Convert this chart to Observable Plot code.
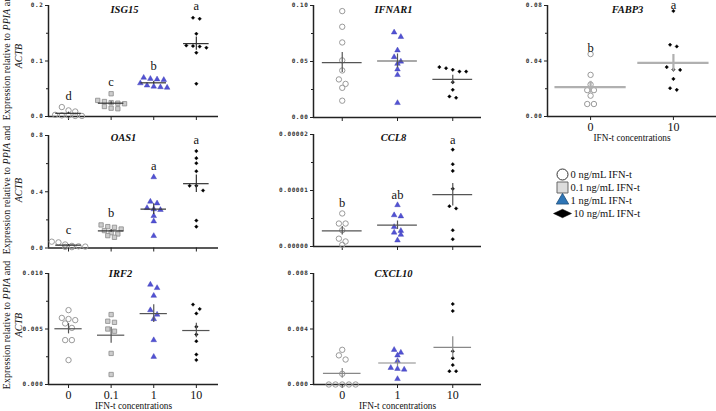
<!DOCTYPE html>
<html><head><meta charset="utf-8">
<script src="https://cdn.jsdelivr.net/npm/d3@7"></script>
<script src="https://cdn.jsdelivr.net/npm/@observablehq/plot@0.6"></script>
<style>
body{margin:0;background:#fff;}
#chart{position:relative;width:716px;height:411px;overflow:hidden;font-family:"Liberation Serif","Times New Roman",serif;color:#111;}
#chart svg{position:absolute;overflow:visible;}
.ytitle{position:absolute;width:150px;height:24px;line-height:12px;font-size:10px;text-align:center;transform:rotate(-90deg);transform-origin:center;white-space:nowrap;color:#111;}
.ytick text{letter-spacing:0.6px;}
</style></head><body><div id="chart"></div>
<script>
// ---- data ----
const groups4 = ["0", "0.1", "1", "10"];
const groups3 = ["0", "1", "10"];
const groups2 = ["0", "10"];

const ISG15 = [
  [0.017, 0.011, 0.009, 0.003, 0.002, 0.002, 0.001, 0.001],
  [0.041, 0.029, 0.027, 0.025, 0.024, 0.023, 0.018, 0.015, 0.014],
  [0.070, 0.068, 0.067, 0.066, 0.060, 0.056, 0.054, 0.053, 0.052],
  [0.178, 0.176, 0.149, 0.128, 0.127, 0.126, 0.124, 0.115, 0.059]
];
const ISG15_letters = ["d", "c", "b", "a"];
const ISG15_yticks = [0, 0.1, 0.2];
const ISG15_ylabels = ["0.0", "0.1", "0.2"];

const IFNAR1 = [
  [0.095, 0.081, 0.067, 0.051, 0.042, 0.034, 0.030, 0.0265, 0.015],
  [0.076, 0.072, 0.060, 0.054, 0.050, 0.048, 0.043, 0.038, 0.013],
  [0.045, 0.044, 0.0426, 0.041, 0.041, 0.0315, 0.0247, 0.0188, 0.0176]
];
const IFNAR1_yticks = [0, 0.05, 0.10];
const IFNAR1_ylabels = ["0.00", "0.05", "0.10"];

const FABP3 = [
  [0.045, 0.030, 0.023, 0.019, 0.019, 0.015, 0.009, 0.009],
  [0.076, 0.0517, 0.0505, 0.0356, 0.0338, 0.0336, 0.0271, 0.0204, 0.0192]
];
const FABP3_letters = ["b", "a"];
const FABP3_yticks = [0, 0.04, 0.08];
const FABP3_ylabels = ["0.00", "0.04", "0.08"];

const OAS1 = [
  [0.045, 0.040, 0.025, 0.015, 0.012, 0.010, 0.008, 0.006],
  [0.164, 0.152, 0.147, 0.135, 0.124, 0.109, 0.100, 0.088, 0.076],
  [0.504, 0.330, 0.318, 0.285, 0.276, 0.271, 0.228, 0.190, 0.086],
  [0.689, 0.639, 0.603, 0.546, 0.442, 0.442, 0.409, 0.195, 0.152]
];
const OAS1_letters = ["c", "b", "a", "a"];
const OAS1_yticks = [0, 0.4, 0.8];
const OAS1_ylabels = ["0.0", "0.4", "0.8"];

const CCL8 = [
  [5.9e-6, 4.1e-6, 4.1e-6, 2.9e-6, 1.4e-6, 0.9e-6, 0.3e-6],
  [7.4e-6, 5.6e-6, 5.4e-6, 3.5e-6, 2.8e-6, 2.5e-6, 2.1e-6, 1.1e-6],
  [17.3e-6, 14.7e-6, 13.5e-6, 10.3e-6, 7.2e-6, 6.8e-6, 2.9e-6, 1.3e-6]
];
const CCL8_letters = ["b", "ab", "a"];
const CCL8_yticks = [0, 0.00001, 0.00002];
const CCL8_ylabels = ["0.00000", "0.00001", "0.00002"];

const IRF2 = [
  [0.0067, 0.0060, 0.0059, 0.0058, 0.0055, 0.0051, 0.0040, 0.0040, 0.0022],
  [0.0063, 0.0057, 0.0056, 0.0050, 0.0048, 0.0028, 0.0009],
  [0.0090, 0.0087, 0.0080, 0.0067, 0.0063, 0.0059, 0.0040, 0.0025],
  [0.0072, 0.0068, 0.0064, 0.0052, 0.0045, 0.0039, 0.0027, 0.0022]
];
const IRF2_yticks = [0, 0.005, 0.010];
const IRF2_ylabels = ["0.000", "0.005", "0.010"];

const CXCL10 = [
  [0.0025, 0.0021, 0.0018, 0.00077, 0, 0, 0, 0, 0],
  [0.0025, 0.0023, 0.0021, 0.0017, 0.0012, 0.00113, 0.00108, 0.0004],
  [0.0058, 0.0053, 0.0024, 0.0019, 0.0014, 0.00096, 0.00096]
];
const CXCL10_yticks = [0, 0.004, 0.008];
const CXCL10_ylabels = ["0.000", "0.004", "0.008"];

const xTitle = "IFN-t concentrations";
const yTitleParts = ["Expression relative to ", "PPIA", " and", "ACTB"];
const legendLabels = ["0 ng/mL IFN-t", "0.1 ng/mL IFN-t", "1 ng/mL IFN-t", "10 ng/mL IFN-t"];

// ---- styles ----
const SERIF = "Liberation Serif, Times New Roman, serif";
const groupStyle = {
  "0":   {symbol: "circle",   r: 2.7, fill: "none",    stroke: "#9a9a9a", strokeWidth: 1},
  "0.1": {symbol: "square",   r: 2.45, fill: "#cdcdcd", stroke: "#8c8c8c", strokeWidth: 0.8},
  "1":   {symbol: "triangle", r: 2.1, fill: "#5252d4", stroke: "#3b3bb0", strokeWidth: 0.4},
  "10":  {symbol: "diamond2", r: 1.6, fill: "#000",    stroke: "#000", strokeWidth: 0.4}
};
const SPACING = 6.7;

const chart = document.getElementById("chart");

function buildPanel(p) {
  const innerW = p.width - p.ml - p.mr, innerH = p.height - p.mt - p.mb;
  const yMax = p.yticks[p.yticks.length - 1];
  const pxX = innerW / (p.xDomain[1] - p.xDomain[0]);
  const pxY = innerH / yMax;
  const pts = [], stats = [];
  p.values.forEach((vals, gi) => {
    const g = p.groups[gi];
    const sorted = vals.slice().sort((a, b) => b - a);
    const rows = [];
    for (const v of sorted) {
      const last = rows[rows.length - 1];
      if (last && (last[0] - v) * pxY < 5) last.push(v); else rows.push([v]);
    }
    for (const row of rows) row.forEach((v, i) => pts.push({g, v, x: gi + (i - (row.length - 1) / 2) * SPACING / pxX}));
    const m = d3.mean(vals), sem = d3.deviation(vals) / Math.sqrt(vals.length);
    stats.push({g, gi, mean: m, lo: m - sem, hi: m + sem, top: d3.max(vals), letter: p.letters ? p.letters[gi] : null});
  });
  const minor = d3.pairs(p.yticks).map(([a, b]) => (a + b) / 2);
  const hw = p.halfWidth;
  const marks = [
    Plot.ruleY([0], {stroke: "#222", strokeWidth: 1.5}),
    Plot.ruleX([p.xDomain[0]], {stroke: "#222", strokeWidth: 1.5}),
    Plot.axisY(p.yticks, {tickSize: 3, tickPadding: 2, label: null, className: "ytick",
      tickFormat: d => p.ylabels[p.yticks.indexOf(d)],
      fontSize: 6, fontWeight: "bold", fontFamily: "DejaVu Sans Mono", fill: "#333"}),
    Plot.axisY(minor, {tickSize: 2, label: null, tickFormat: () => ""}),
    Plot.axisX(d3.range(p.groups.length), {tickSize: 4, tickPadding: 2, label: null,
      tickFormat: i => p.showX ? p.groups[i] : "", fontSize: 12, fontFamily: SERIF, fill: "#111"})
  ];
  p.groups.forEach(g => {
    const s = groupStyle[g];
    marks.push(Plot.dot(pts.filter(d => d.g === g), {x: "x", y: "v", ...s}));
  });
  marks.push(
    Plot.ruleY(stats, {y: "mean", x1: d => d.gi - hw, x2: d => d.gi + hw, stroke: p.lineColor, strokeWidth: p.lineWidth}),
    Plot.ruleX(stats, {x: "gi", y1: "lo", y2: "hi", stroke: p.lineColor, strokeWidth: p.lineWidth}),
    Plot.text(stats.filter(d => d.letter), {x: "gi", y: "top", text: "letter", dy: p.letterDy, fontSize: 12.5, fontFamily: SERIF, lineAnchor: "middle", fill: "#111"}),
    Plot.text([p.name], {text: d => d, frameAnchor: "top", dx: p.titleDx, dy: p.titleDy, lineAnchor: "middle",
      fontSize: 10.5, fontWeight: "bold", fontStyle: "italic", fontFamily: SERIF, fill: "#111"})
  );
  if (p.showX) marks.push(Plot.text([xTitle], {text: d => d, frameAnchor: "bottom", dy: 22, lineAnchor: "middle", fontSize: 9.3, fontFamily: SERIF, fill: "#111"}));
  const svg = Plot.plot({
    width: p.width, height: p.height,
    marginLeft: p.ml, marginRight: p.mr, marginTop: p.mt, marginBottom: p.mb,
    style: {background: "transparent", fontFamily: SERIF, color: "#222", overflow: "visible"},
    x: {domain: p.xDomain, axis: null},
    y: {domain: [0, yMax], axis: null},
    marks
  });
  svg.style.left = p.left + "px";
  svg.style.top = p.top + "px";
  chart.appendChild(svg);
}

const dark = "#333", mid = "#555";
const panels = [
  {name: "ISG15", values: ISG15, groups: groups4, letters: ISG15_letters, yticks: ISG15_yticks, ylabels: ISG15_ylabels,
   left: 0, top: 0, width: 222, height: 130, ml: 48, mr: 4, mt: 5, mb: 14, xDomain: [-0.47, 3.52], halfWidth: 0.3,
   lineColor: dark, lineWidth: 1.2, titleDx: -9, titleDy: 4, letterDy: -11.5, showX: false},
  {name: "IFNAR1", values: IFNAR1, groups: groups3, letters: null, yticks: IFNAR1_yticks, ylabels: IFNAR1_ylabels,
   left: 265, top: 0, width: 220, height: 131, ml: 48, mr: 4, mt: 5, mb: 14, xDomain: [-0.52, 2.52], halfWidth: 0.36,
   lineColor: mid, lineWidth: 1.2, titleDx: -4, titleDy: 4, letterDy: -11, showX: false},
  {name: "FABP3", values: FABP3, groups: groups2, letters: FABP3_letters, yticks: FABP3_yticks, ylabels: FABP3_ylabels,
   left: 499, top: 0, width: 217, height: 146, ml: 48, mr: 0, mt: 5, mb: 30, xDomain: [-0.52, 1.52], halfWidth: 0.43,
   lineColor: "#b0b0b0", lineWidth: 2.2, titleDx: -4.5, titleDy: 4, letterDy: -6.5, showX: true},
  {name: "OAS1", values: OAS1, groups: groups4, letters: OAS1_letters, yticks: OAS1_yticks, ylabels: OAS1_ylabels,
   left: 0, top: 125, width: 222, height: 136, ml: 48, mr: 4, mt: 10, mb: 13.5, xDomain: [-0.47, 3.52], halfWidth: 0.3,
   lineColor: dark, lineWidth: 1.2, titleDx: -10, titleDy: 2.5, letterDy: -11.5, showX: false},
  {name: "CCL8", values: CCL8, groups: groups3, letters: CCL8_letters, yticks: CCL8_yticks, ylabels: CCL8_ylabels,
   left: 265, top: 125, width: 220, height: 134, ml: 48, mr: 4, mt: 9, mb: 13, xDomain: [-0.52, 2.52], halfWidth: 0.36,
   lineColor: mid, lineWidth: 1.2, titleDx: -4, titleDy: 3, letterDy: -10, showX: false},
  {name: "IRF2", values: IRF2, groups: groups4, letters: null, yticks: IRF2_yticks, ylabels: IRF2_ylabels,
   left: 0, top: 262, width: 222, height: 149, ml: 48, mr: 4, mt: 11, mb: 27, xDomain: [-0.47, 3.52], halfWidth: 0.32,
   lineColor: mid, lineWidth: 1.2, titleDx: -13, titleDy: 0.5, letterDy: -11, showX: true},
  {name: "CXCL10", values: CXCL10, groups: groups3, letters: null, yticks: CXCL10_yticks, ylabels: CXCL10_ylabels,
   left: 265, top: 262, width: 220, height: 149, ml: 48, mr: 4, mt: 11, mb: 27, xDomain: [-0.52, 2.52], halfWidth: 0.34,
   lineColor: "#888", lineWidth: 1.2, titleDx: -4, titleDy: 0.5, letterDy: -11, showX: true}
];
panels.forEach(buildPanel);

// y-axis titles (one per row)
[56, 190, 325].forEach(yc => {
  const div = document.createElement("div");
  div.className = "ytitle";
  div.style.left = (13 - 75) + "px";
  div.style.top = (yc - 12) + "px";
  div.innerHTML = `${yTitleParts[0]}<i>${yTitleParts[1]}</i>${yTitleParts[2]}<br><i>${yTitleParts[3]}</i>`;
  chart.appendChild(div);
});

// legend
const wideDiamond = {draw(ctx, size) {
  const r = Math.sqrt(size / Math.PI);
  ctx.moveTo(-1.5 * r, 0); ctx.lineTo(0, -0.7 * r); ctx.lineTo(1.5 * r, 0); ctx.lineTo(0, 0.7 * r); ctx.closePath();
}};
const legendStyles = [
  {symbol: "circle", r: 5.5, fill: "white", stroke: "#333", strokeWidth: 1},
  {symbol: "square", r: 6.2, fill: "#dcdcdc", stroke: "#666", strokeWidth: 1},
  {symbol: "triangle", r: 4.6, fill: "#2e75b6", stroke: "#1f4e79", strokeWidth: 0.8},
  {symbol: wideDiamond, r: 6, fill: "#000", stroke: "#000", strokeWidth: 0.5}
];
const legendTextDx = [30, 30, 30, 33];
const legend = Plot.plot({
  width: 170, height: 80, marginLeft: 0, marginRight: 0, marginTop: 0, marginBottom: 0,
  style: {background: "transparent", fontFamily: SERIF, overflow: "visible"},
  y: {type: "point", domain: legendLabels, range: [11, 65.8], axis: null},
  marks: [
    ...legendLabels.map((lab, i) => Plot.dot([lab], {y: d => d, frameAnchor: "left", dx: 22, ...legendStyles[i]})),
    ...legendLabels.map((lab, i) => Plot.text([lab], {y: d => d, text: d => d, frameAnchor: "left", dx: legendTextDx[i], textAnchor: "start", fontSize: 10.5, fontFamily: SERIF, fill: "#111"}))
  ]
});
legend.style.left = "540px";
legend.style.top = "155px";
chart.appendChild(legend);
</script></body></html>
